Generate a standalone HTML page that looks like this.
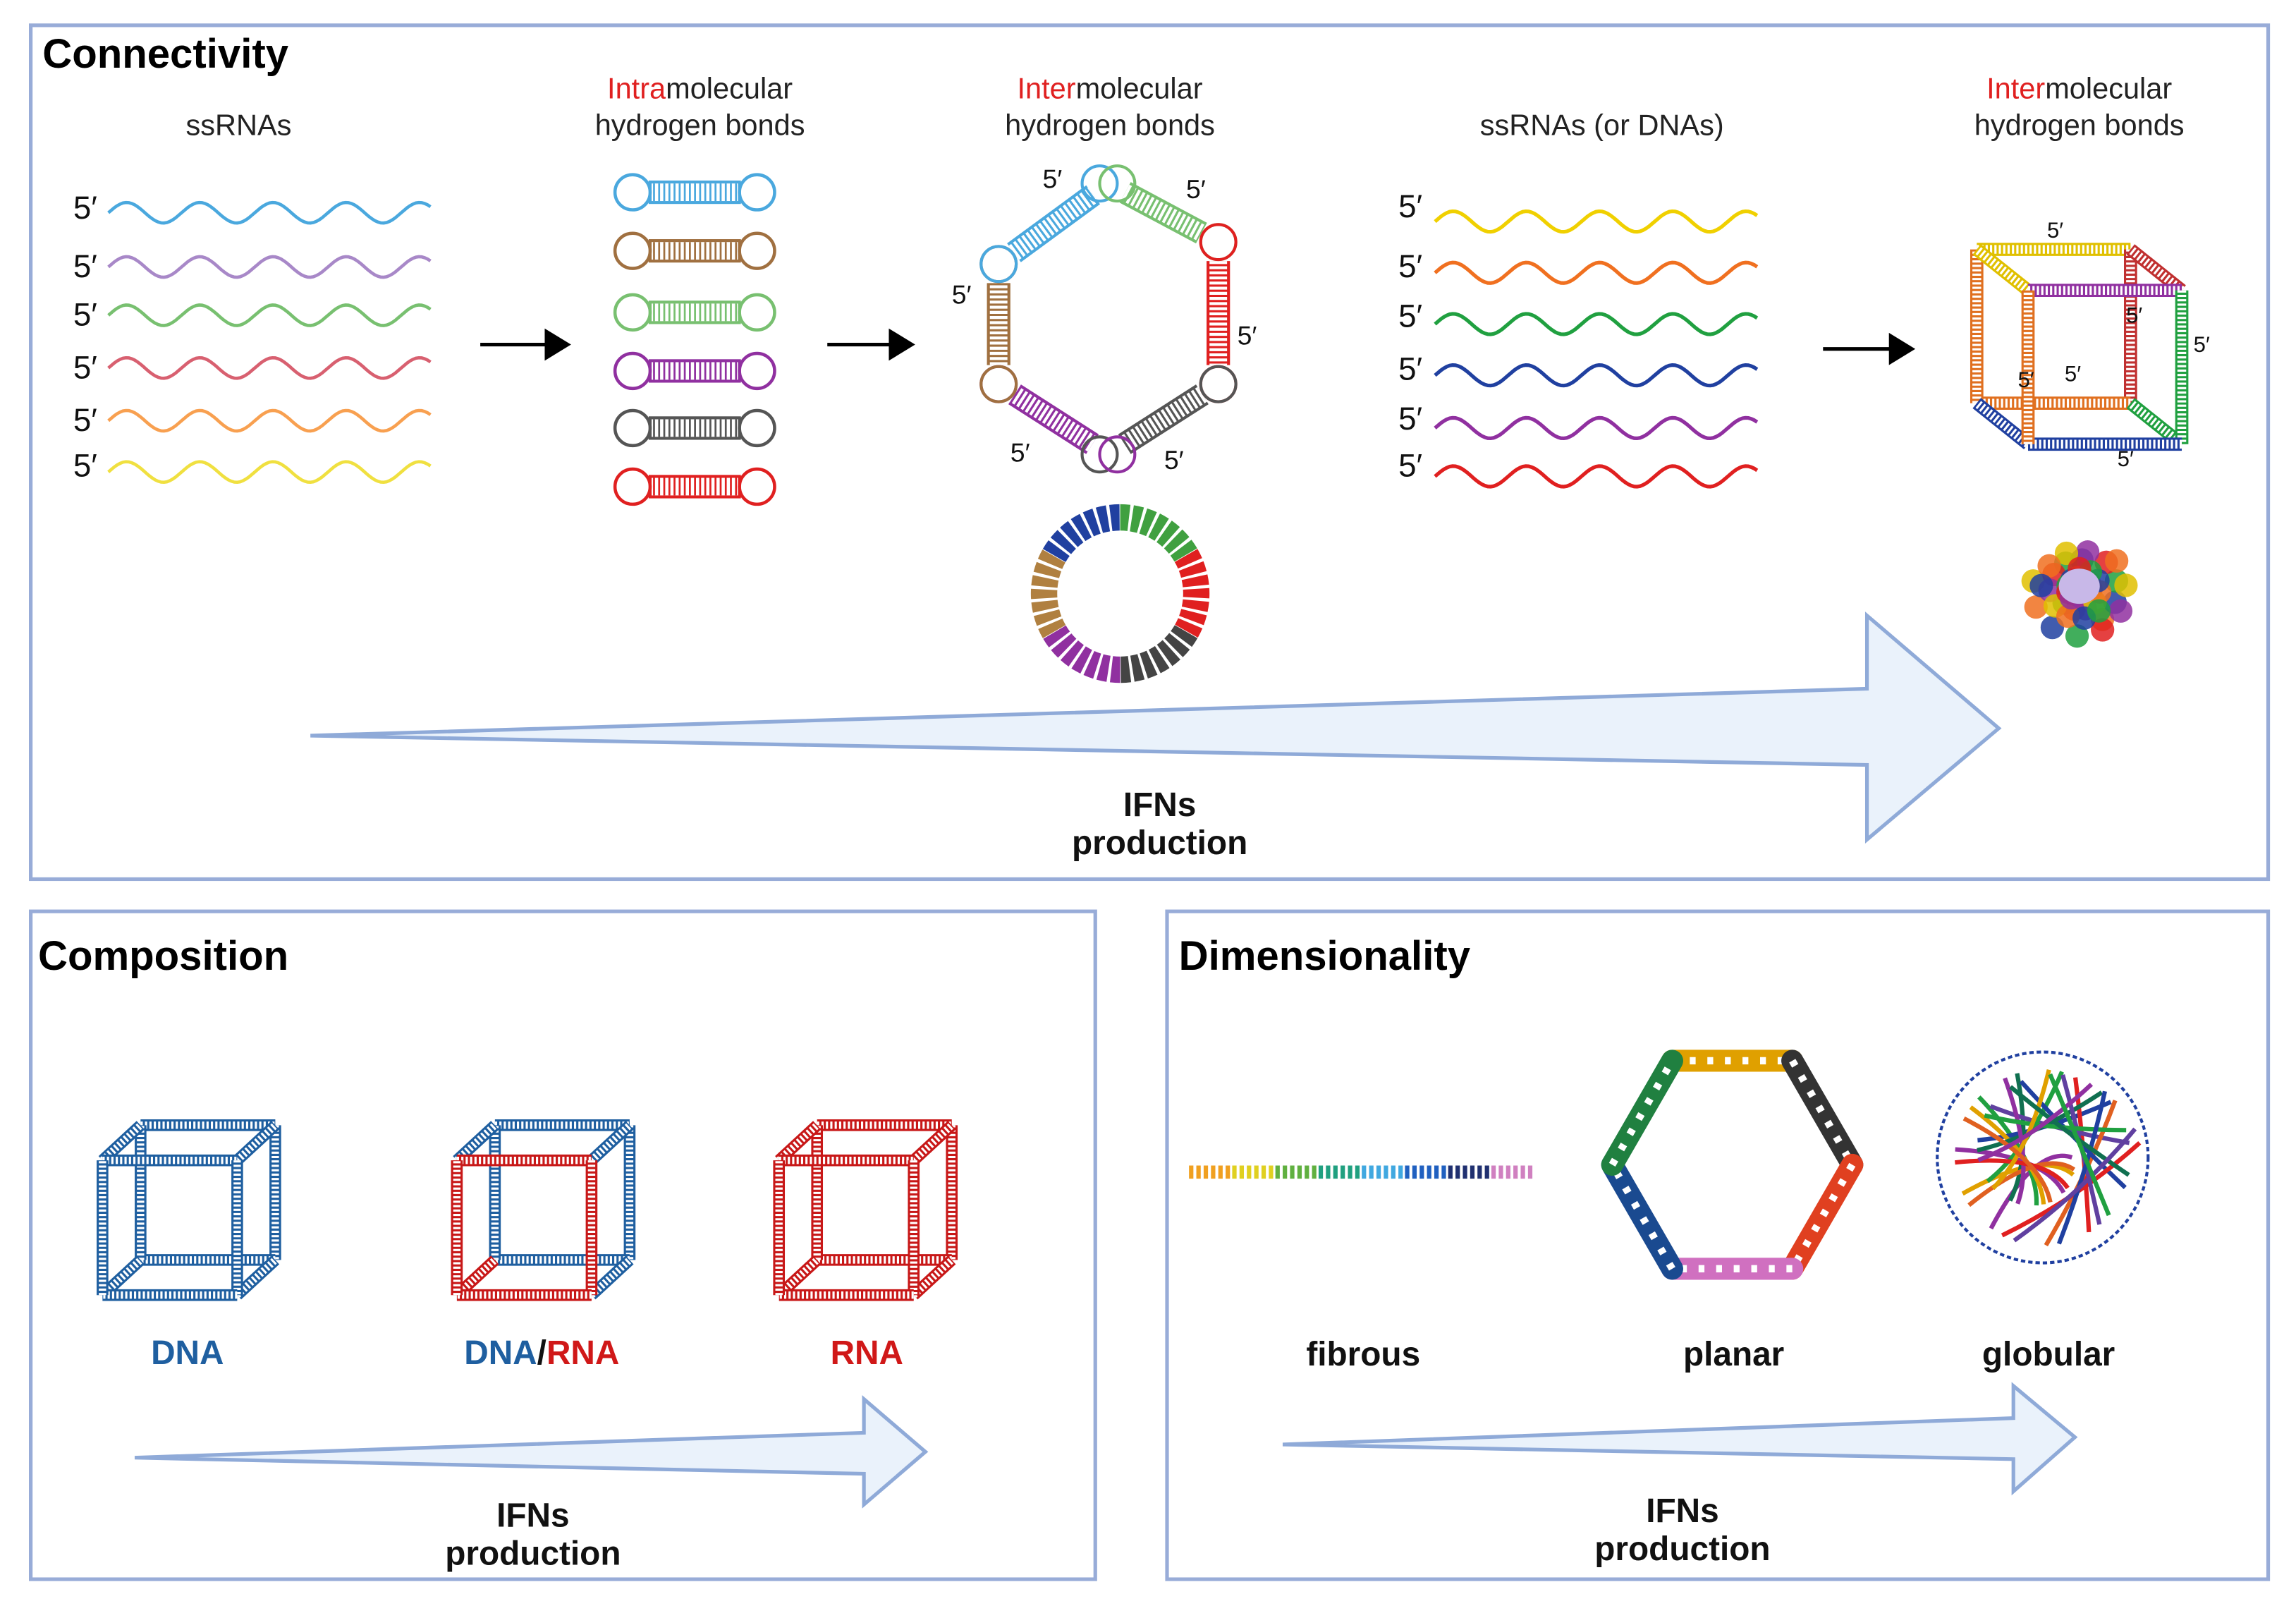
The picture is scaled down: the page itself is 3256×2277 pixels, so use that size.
<!DOCTYPE html>
<html><head><meta charset="utf-8"><style>
html,body{margin:0;padding:0;background:#fff}
svg{display:block}
text{font-family:"Liberation Sans",sans-serif}
</style></head><body>
<svg id="s" width="3256" height="2277" viewBox="0 0 1568 1096" xmlns="http://www.w3.org/2000/svg">
<rect width="1568" height="1096" fill="#fff"/>
<g fill="none" stroke="#98acd8" stroke-width="2.5">
<rect x="21" y="17" width="1528" height="583"/>
<rect x="21" y="622" width="727" height="456"/>
<rect x="797" y="622" width="752" height="456"/>
</g>
<g font-weight="bold" fill="#000" font-size="28">
<text x="29" y="46">Connectivity</text>
<text x="26" y="662">Composition</text>
<text x="805" y="662">Dimensionality</text>
</g>
<g font-size="20" fill="#222" text-anchor="middle">
<text x="163" y="92">ssRNAs</text>
<text x="478" y="67"><tspan fill="#e02020">Intra</tspan>molecular</text>
<text x="478" y="92">hydrogen bonds</text>
<text x="758" y="67"><tspan fill="#e02020">Inter</tspan>molecular</text>
<text x="758" y="92">hydrogen bonds</text>
<text x="1094" y="92">ssRNAs (or DNAs)</text>
<text x="1420" y="67"><tspan fill="#e02020">Inter</tspan>molecular</text>
<text x="1420" y="92">hydrogen bonds</text>
</g>
<g font-size="22" fill="#111">
<text x="50" y="149">5′</text><text x="50" y="189">5′</text><text x="50" y="222">5′</text>
<text x="50" y="258">5′</text><text x="50" y="294">5′</text><text x="50" y="325">5′</text>
<text x="955" y="148">5′</text><text x="955" y="189">5′</text><text x="955" y="223">5′</text>
<text x="955" y="259">5′</text><text x="955" y="293">5′</text><text x="955" y="325">5′</text>
</g>
<g font-size="18" fill="#111">
<text x="712" y="128">5′</text><text x="810" y="135">5′</text><text x="650" y="207">5′</text>
<text x="845" y="235">5′</text><text x="690" y="315">5′</text><text x="795" y="320">5′</text>
</g>
<g id="dyn"></g>
<g font-size="15" fill="#111">
<text x="1398" y="162">5′</text><text x="1452" y="220">5′</text>
<text x="1498" y="240">5′</text><text x="1378" y="264">5′</text>
<text x="1410" y="260">5′</text><text x="1446" y="318">5′</text>
</g>
<g fill="#eaf2fb" stroke="#8faad8" stroke-width="2.5">
<path d="M212,502 L1275,470 L1275,420 L1365,497 L1275,573 L1275,522 Z"/>
<path d="M92,995 L590,978 L590,955 L632,991 L590,1027 L590,1006 Z"/>
<path d="M876,986 L1375,968 L1375,946 L1417,981 L1375,1018 L1375,996 Z"/>
</g>
<g font-weight="bold" font-size="23" text-anchor="middle" fill="#111">
<text x="792" y="557">IFNs</text><text x="792" y="583">production</text>
<text x="364" y="1042">IFNs</text><text x="364" y="1068">production</text>
<text x="1149" y="1039">IFNs</text><text x="1149" y="1065">production</text>
<text x="128" y="931" fill="#1f5fa0">DNA</text>
<text x="370" y="931"><tspan fill="#1f5fa0">DNA</tspan>/<tspan fill="#d01818">RNA</tspan></text>
<text x="592" y="931" fill="#d01818">RNA</text>
<text x="931" y="932">fibrous</text><text x="1184" y="932">planar</text><text x="1399" y="932">globular</text>
</g>
</svg>
<script>
var g=document.getElementById('dyn'),NS='http://www.w3.org/2000/svg';
function el(t,a){var e=document.createElementNS(NS,t);for(var k in a)e.setAttribute(k,a[k]);g.appendChild(e);return e;}
function wave(x0,x1,y,c,amp,per,w){var d='M'+x0+','+y;for(var x=x0;x<=x1;x+=2){d+=' L'+x+','+(y+amp*Math.sin((x-x0)/per*2*Math.PI)).toFixed(1);}el('path',{d:d,fill:'none',stroke:c,'stroke-width':w||2.2});}
var c1=['#4aa8de','#a888c8','#78c070','#d86070','#f8a050','#f0e040'],y1=[145,182,215,251,287,322];
for(var i=0;i<6;i++)wave(74,295,y1[i],c1[i],-7,50);
var c2=['#f0d000','#f07020','#20a040','#2040a0','#9030a0','#e02020'],y2=[151,186,221,256,292,325];
for(i=0;i<6;i++)wave(980,1200,y2[i],c2[i],-7,50,2.5);
var hc=['#4aa8de','#a07040','#78c070','#9030a0','#555','#e02020'],hy=[131,171,213,253,292,332];
for(i=0;i<6;i++){var y=hy[i];el('circle',{cx:432,cy:y,r:12,fill:'none',stroke:hc[i],'stroke-width':2.2});el('circle',{cx:517,cy:y,r:12,fill:'none',stroke:hc[i],'stroke-width':2.2});
el('rect',{x:444,y:y-7,width:61,height:14,fill:'none',stroke:hc[i],'stroke-width':2});
el('line',{x1:446,y1:y,x2:504,y2:y,stroke:hc[i],'stroke-width':12,'stroke-dasharray':'1.3 2.2'});}
function barr(x0,x1,y){el('line',{x1:x0,y1:y,x2:x1-12,y2:y,stroke:'#000','stroke-width':2.5});el('path',{d:'M'+(x1-18)+','+(y-11)+' L'+x1+','+y+' L'+(x1-18)+','+(y+11)+' Z',fill:'#000'});}
barr(328,390,235);barr(565,625,235);barr(1245,1308,238);
var P=[[682,180],[757,125],[832,165],[832,262],[757,310],[682,262]],hx=['#4aa8de','#78c070','#e02020','#555','#9030a0','#a07040'];
var cc=['#a07040','#4aa8de','#78c070','#e02020','#555','#9030a0'];
for(i=0;i<6;i++){var a=P[i],b=P[(i+1)%6];var dx=b[0]-a[0],dy=b[1]-a[1],L=Math.hypot(dx,dy),ux=dx/L,uy=dy/L;
var ax=a[0]+ux*13,ay=a[1]+uy*13,bx=b[0]-ux*13,by=b[1]-uy*13;
el('line',{x1:ax,y1:ay,x2:bx,y2:by,stroke:hx[i],'stroke-width':16});
el('line',{x1:ax,y1:ay,x2:bx,y2:by,stroke:'#fff','stroke-width':12,'stroke-dasharray':'2 1.5'});}
for(i=0;i<6;i++){var p=P[i];el('circle',{cx:p[0]+(i==1?-6:i==4?-6:0),cy:p[1],r:12,fill:'none',stroke:cc[i],'stroke-width':2});el('circle',{cx:p[0]+(i==1?6:i==4?6:0),cy:p[1],r:12,fill:'none',stroke:hx[i],'stroke-width':2});}
var rc=['#2040a0','#40a040','#e02020','#444','#9030a0','#b08040'];
for(i=0;i<6;i++){var a0=(i*60-150)*Math.PI/180,a1=((i+1)*60-150)*Math.PI/180;
var r=52,cx=765,cy=405;el('path',{d:'M'+(cx+r*Math.cos(a0))+','+(cy+r*Math.sin(a0))+' A'+r+','+r+' 0 0 1 '+(cx+r*Math.cos(a1))+','+(cy+r*Math.sin(a1)),fill:'none',stroke:rc[i],'stroke-width':18,'stroke-dasharray':'6 2'});}
// cube: back square drawn first, then connectors, then front
function cube(x,y,s,ox,oy,cf,cb,w){var F=[[x,y],[x+s,y],[x+s,y+s],[x,y+s]],B=F.map(function(p){return[p[0]+ox,p[1]+oy]});
function ed(p,q,c){el('line',{x1:p[0],y1:p[1],x2:q[0],y2:q[1],stroke:c,'stroke-width':w});el('line',{x1:p[0],y1:p[1],x2:q[0],y2:q[1],stroke:'#fff','stroke-width':w-3,'stroke-dasharray':'1.5 1.5'});}
for(var k=0;k<4;k++)ed(B[k],B[(k+1)%4],cb[k]);for(k=0;k<4;k++)ed(F[k],B[k],cb[4+k]);for(k=0;k<4;k++)ed(F[k],F[(k+1)%4],cf[k]);}
var bl='#1f5fa0',rd='#c81818';
cube(70,792,92,26,-24,[bl,bl,bl,bl],[bl,bl,bl,bl,bl,bl,bl,bl],8);
cube(312,792,92,26,-24,[rd,rd,rd,rd],[bl,bl,bl,bl,bl,bl,bl,rd],8);
cube(532,792,92,26,-24,[rd,rd,rd,rd],[rd,rd,rd,rd,rd,rd,rd,rd],8);
cube(1385,198,105,-35,-28,['#9030a0','#20a040','#2040a0','#e07020'],['#e0c000','#c03030','#e07020','#e07020','#e0c000','#c03030','#20a040','#2040a0'],9);
var gc=['#e02020','#20a040','#2040a0','#f07020','#e0c000','#9030a0'];
for(i=0;i<40;i++){var an=i*2.4,rr=8+(i%5)*6;el('circle',{cx:1420+rr*Math.cos(an),cy:402+rr*1.0*Math.sin(an),r:8,fill:gc[i%6],opacity:.85});}
el('ellipse',{cx:1420,cy:400,rx:14,ry:12,fill:'#c8b8e8'});
var fc=['#f0a020','#e0d020','#60b040','#20a080','#40a8e0','#2060c0','#203070','#d080c0'];
for(i=0;i<8;i++){el('line',{x1:812+i*29.5,y1:800,x2:842+i*29.5,y2:800,stroke:fc[i],'stroke-width':9,'stroke-dasharray':'3 2'});}
var ph=['#e0a000','#333','#e04020','#d070c0','#1a4a90','#208040'];
for(i=0;i<6;i++){var a0=(i*60-120)*Math.PI/180,a1=((i+1)*60-120)*Math.PI/180,R=82,cx=1183,cy=795;
var x1=cx+R*Math.cos(a0),y1=cy+R*Math.sin(a0),x2=cx+R*Math.cos(a1),y2=cy+R*Math.sin(a1);
el('line',{x1:x1,y1:y1,x2:x2,y2:y2,stroke:ph[i],'stroke-width':15,'stroke-linecap':'round'});
el('line',{x1:x1,y1:y1,x2:x2,y2:y2,stroke:'#fff','stroke-width':5,'stroke-dasharray':'4 8'});}
var cx2=1395,cy2=790;el('circle',{cx:cx2,cy:cy2,r:72,fill:'none',stroke:'#2040a0','stroke-width':2,'stroke-dasharray':'3 2'});
var gcol=['#9030a0','#20a040','#2040a0','#e02020','#e0a000','#107050','#6040a0','#e06020'];
for(i=0;i<26;i++){var t=i*1.7,r1=20+(i*13)%48,a=t,b=t+2.2;
el('path',{d:'M'+(cx2+r1*Math.cos(a))+','+(cy2+r1*Math.sin(a))+' Q'+(cx2+(r1-30)*Math.cos(t+1))+','+(cy2+(r1-30)*Math.sin(t+1))+' '+(cx2+60*Math.cos(b))+','+(cy2+60*Math.sin(b)),fill:'none',stroke:gcol[i%8],'stroke-width':3});}
</script>
</body></html>
